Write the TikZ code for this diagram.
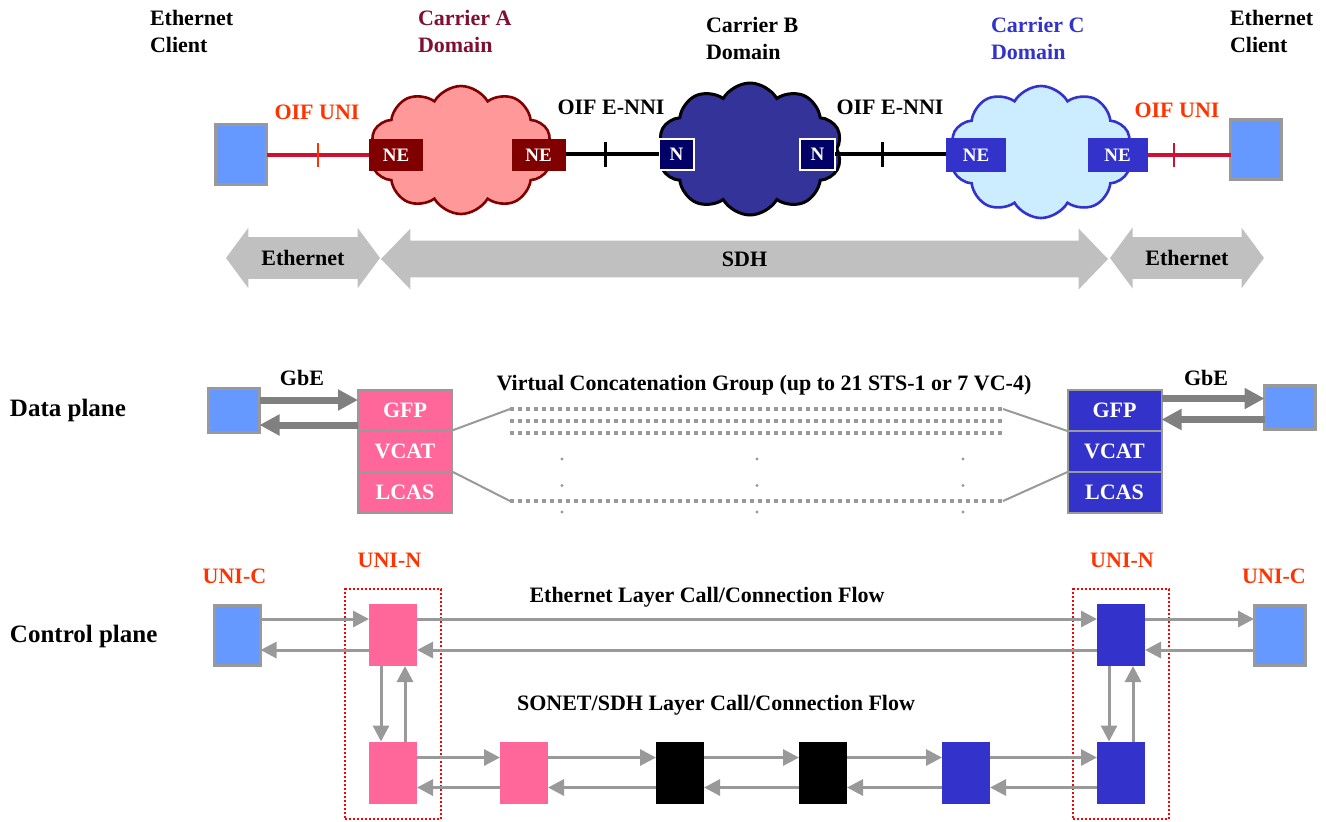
\documentclass[tikz,border=0pt]{standalone}
\usepackage{fontspec}
\setmainfont{Liberation Serif}
\usetikzlibrary{shapes.symbols,shapes.arrows,arrows.meta,positioning,fit}
\definecolor{cliblue}{HTML}{6699FF}
\definecolor{cligray}{HTML}{999999}
\definecolor{unipink}{HTML}{FF6699}
\definecolor{unblue}{HTML}{3333CC}
\definecolor{oifred}{HTML}{FF3300}
\definecolor{unilink}{HTML}{CC1133}
\definecolor{carA}{HTML}{800000}
\definecolor{carAtext}{HTML}{801030}
\definecolor{cloudA}{HTML}{FF9999}
\definecolor{cloudB}{HTML}{333399}
\definecolor{nB}{HTML}{000066}
\definecolor{cloudC}{HTML}{CCECFF}
\definecolor{bandgray}{HTML}{C0C0C0}
\definecolor{flowgray}{HTML}{999999}
\definecolor{gbegray}{HTML}{808080}

\begin{document}
\begin{tikzpicture}[%
    x=0.5pt, y=-0.5pt,          % one unit is one pixel of the sketch, counted top-down
    font=\fontsize{11}{13.5}\selectfont\bfseries,
    ]
% -------------------------------------------------
% Box styles
\tikzset{
  base/.style={inner sep=0pt, outer sep=0pt},
  client/.style={base, rectangle, fill=cliblue, draw=cligray, line width=1.5pt},
  lbl/.style={base, align=left},
  oif/.style={base, text=oifred},
  plane/.style={base, anchor=west, font=\fontsize{12.5}{15}\selectfont\bfseries},
  cloudy/.style={base, cloud, cloud puffs=10, cloud puff arc=120, cloud ignores aspect, line width=1.3pt},
  nebox/.style={base, rectangle, text=white, font=\fontsize{9.5}{11}\selectfont\bfseries},
  band/.style={base, double arrow, fill=bandgray, text height=7.5pt, text depth=0pt, minimum width=30pt},
  layer/.style={base, rectangle, minimum width=47pt, minimum height=20.5pt, draw=cligray, line width=1pt, text=white},
  cbox/.style={base, rectangle, minimum width=24pt, minimum height=31pt},
  unin/.style={base, draw=red, line width=1pt, dash pattern=on 1pt off 1pt, inner xsep=12pt, inner ysep=7.5pt},
  % -------------------------------------------------
  % Connector line styles
  unil/.style={draw=unilink, line width=1.6pt},
  ennil/.style={draw=black, line width=1.6pt},
  gbe/.style={draw=gbegray, line width=3.5pt, -{Triangle[length=10pt,width=10pt]}},
  vcg/.style={draw=cligray, line width=1pt},
  vcgdot/.style={draw=cligray, line width=1.6pt, dash pattern=on 2pt off 2pt},
  vdots/.style={draw=cligray, line width=1.6pt, line cap=round, dash pattern=on 0pt off 13.25pt},
  flow/.style={draw=flowgray, line width=1.5pt, -{Triangle[length=8pt,width=8pt]}},
}
\useasboundingbox (0,0) rectangle (1326,821);
% -------------------------------------------------
% Top: clients and carrier domains
\node[lbl, anchor=west] (ecL) at (150,31.5) {Ethernet\\Client};
\node[lbl, anchor=west, text=carAtext] (carA) at (418,31.5) {Carrier A\\Domain};
\node[lbl, anchor=west] (carB) at (706,38.5) {Carrier B\\Domain};
\node[lbl, anchor=west, text=unblue] (carC) at (991,38.5) {Carrier C\\Domain};
\node[lbl, anchor=west] (ecR) at (1230,31.5) {Ethernet\\Client};

\node[client, minimum width=25.5pt, minimum height=30pt] (cliL) at (241,154.5) {};
\node[client, minimum width=25.5pt, minimum height=30pt] (cliR) at (1256,149.5) {};

\node[cloudy, fill=cloudA, draw=carA, minimum width=91pt, minimum height=64pt] (cldA) at (461,150) {};
\node[cloudy, fill=cloudB, draw=black, line width=1.5pt, minimum width=92pt, minimum height=66pt] (cldB) at (750,149) {};
\node[cloudy, fill=cloudC, draw=unblue, minimum width=91pt, minimum height=66pt] (cldC) at (1041,152) {};

\node[nebox, fill=carA, minimum width=27pt, minimum height=16pt] (neA1) at (396,155) {NE};
\node[nebox, fill=carA, minimum width=27pt, minimum height=16pt] (neA2) at (538.5,155) {NE};
\node[nebox, fill=nB, draw=white, line width=1pt, minimum width=17.5pt, minimum height=15.5pt] (nB1) at (676.5,154) {N};
\node[nebox, fill=nB, draw=white, line width=1pt, minimum width=17.5pt, minimum height=15.5pt] (nB2) at (817.5,154) {N};
\node[nebox, fill=unblue, minimum width=30pt, minimum height=17pt] (neC1) at (976,155) {NE};
\node[nebox, fill=unblue, minimum width=30pt, minimum height=17pt] (neC2) at (1117.5,155) {NE};

\node[oif] (oifL) at (317,112) {OIF UNI};
\node[base] (enniL) at (611,107) {OIF E-NNI};
\node[base] (enniR) at (890,107) {OIF E-NNI};
\node[oif] (oifR) at (1177,110) {OIF UNI};

% links with their interface ticks
\draw[unil] (cliL.east |- neA1.west) -- coordinate[pos=0.5] (tkA) (neA1.west);
\draw[ennil] (neA2.east |- nB1.west) -- coordinate[pos=0.43] (tkB) (nB1.west);
\draw[ennil] (nB2.east) -- coordinate[pos=0.43] (tkC) (nB2.east -| neC1.west);
\draw[unil] (neC2.east) -- coordinate[pos=0.32] (tkD) (neC2.east -| cliR.west);
\draw[line width=1.2pt, oifred] (tkA) ++(0,-12) -- ++(0,24);
\draw[line width=1.5pt] (tkB) ++(0,-12) -- ++(0,25);
\draw[line width=1.5pt] (tkC) ++(0,-12) -- ++(0,25);
\draw[line width=1.2pt, unilink] (tkD) ++(0,-12) -- ++(0,24);

% layer bands
\node[band, minimum height=77pt, inner ysep=6.5pt, double arrow head extend=4.75pt, double arrow tip angle=107] (bEthL) at (303,258) {Ethernet};
\node[band, minimum height=363.5pt, inner ysep=5.25pt, double arrow head extend=6pt, double arrow tip angle=92] (bSDH) at (744.5,259) {SDH};
\node[band, minimum height=77pt, inner ysep=6.5pt, double arrow head extend=4.75pt, double arrow tip angle=107] (bEthR) at (1187,258) {Ethernet};
% -------------------------------------------------
% Data plane
\node[plane] (dplane) at (10,410) {Data plane};
\node[client, minimum width=25.5pt, minimum height=22pt] (dcliL) at (234,410) {};
\node[client, minimum width=25.5pt, minimum height=22pt] (dcliR) at (1290,407.5) {};

\node[layer, fill=unipink] (gfpL) at (405,410) {GFP};
\node[layer, fill=unipink, below=0pt of gfpL] (vcatL) {VCAT};
\node[layer, fill=unipink, below=0pt of vcatL] (lcasL) {LCAS};
\node[layer, fill=unblue] (gfpR) at (1114.5,410.5) {GFP};
\node[layer, fill=unblue, below=0pt of gfpR] (vcatR) {VCAT};
\node[layer, fill=unblue, below=0pt of vcatR] (lcasR) {LCAS};

\node[base] (gbeL) at (302,378) {GbE};
\node[base] (gbeR) at (1206,378) {GbE};
\node[base] (vcgtxt) at (764,385) {Virtual Concatenation Group (up to 21 STS-1 or 7 VC-4)};

\draw[gbe] ([yshift=5pt]dcliL.east) -- ([yshift=5pt]dcliL.east -| gfpL.west);
\draw[gbe] ([yshift=-7.5pt]gfpL.west) -- ([yshift=-7.5pt]gfpL.west -| dcliL.east);
\draw[gbe] ([yshift=6pt]gfpR.east) -- ([yshift=6pt]gfpR.east -| dcliR.west);
\draw[gbe] ([yshift=-6pt]dcliR.west) -- ([yshift=-6pt]dcliR.west -| gfpR.east);

% the group of member paths
\coordinate (vgL1) at (510,409);
\coordinate (vgL2) at (510,421);
\coordinate (vgL3) at (510,433);
\coordinate (vgL4) at (510,501);
\coordinate (vgR1) at (1003,409);
\coordinate (vgR2) at (1003,421);
\coordinate (vgR3) at (1003,433);
\coordinate (vgR4) at (1003,501);
\draw[vcg] (gfpL.south east) -- (vgL1);
\draw[vcg] (vcatL.south east) -- (vgL4);
\draw[vcg] (gfpR.south west) -- (vgR1);
\draw[vcg] (vcatR.south west) -- (vgR4);
\draw[vcgdot] (vgL1) -- (vgR1);
\draw[vcgdot] (vgL2) -- (vgR2);
\draw[vcgdot] (vgL3) -- (vgR3);
\draw[vcgdot] (vgL4) -- (vgR4);
\draw[vdots] (562,459) -- (562,514);
\draw[vdots] (757,459) -- (757,514);
\draw[vdots] (963,459) -- (963,514);
% -------------------------------------------------
% Control plane
\node[plane] (cplane) at (10,636) {Control plane};
\node[client, minimum width=23pt, minimum height=30pt] (ccliL) at (237.5,635) {};
\node[client, minimum width=25.5pt, minimum height=30pt] (ccliR) at (1279.5,635) {};

\node[cbox, fill=unipink] (cnL1) at (393,635) {};
\node[cbox, fill=unipink] (cnL2) at (393,772.5) {};
\node[cbox, fill=unipink] (csA) at (524,772.5) {};
\node[cbox, fill=black] (csB1) at (680,772.5) {};
\node[cbox, fill=black] (csB2) at (823,772.5) {};
\node[cbox, fill=unblue] (csC) at (966,772.5) {};
\node[cbox, fill=unblue] (cnR2) at (1121,772.5) {};
\node[cbox, fill=unblue] (cnR1) at (1121,635) {};

\node[unin, fit=(cnL1)(cnL2)] (uninL) {};
\node[unin, fit=(cnR1)(cnR2)] (uninR) {};

\node[oif] (unicL) at (234.5,576) {UNI-C};
\node[oif] (uninLl) at (389.5,560) {UNI-N};
\node[oif] (uninRl) at (1122,560) {UNI-N};
\node[oif] (unicR) at (1274,576) {UNI-C};

\node[base] (ethflow) at (707,597) {Ethernet Layer Call/Connection Flow};
\node[base] (sdhflow) at (716,705) {SONET/SDH Layer Call/Connection Flow};

% Ethernet layer call flow
\draw[flow] ([yshift=8pt]ccliL.east) -- ([yshift=8pt]cnL1.west);
\draw[flow] ([yshift=-7.5pt]cnL1.west) -- ([yshift=-7.5pt]ccliL.east);
\draw[flow] ([yshift=8pt]cnL1.east) -- ([yshift=8pt]cnR1.west);
\draw[flow] ([yshift=-7.5pt]cnR1.west) -- ([yshift=-7.5pt]cnL1.east);
\draw[flow] ([yshift=8pt]cnR1.east) -- ([yshift=8pt]ccliR.west);
\draw[flow] ([yshift=-7.5pt]ccliR.west) -- ([yshift=-7.5pt]cnR1.east);
% between the layers
\draw[flow] ([xshift=-6pt]cnL1.south) -- ([xshift=-6pt]cnL2.north);
\draw[flow] ([xshift=6pt]cnL2.north) -- ([xshift=6pt]cnL1.south);
\draw[flow] ([xshift=-6pt]cnR1.south) -- ([xshift=-6pt]cnR2.north);
\draw[flow] ([xshift=6pt]cnR2.north) -- ([xshift=6pt]cnR1.south);
% SONET/SDH layer call flow
\draw[flow] ([yshift=7.5pt]cnL2.east) -- ([yshift=7.5pt]csA.west);
\draw[flow] ([yshift=-7.5pt]csA.west) -- ([yshift=-7.5pt]cnL2.east);
\draw[flow] ([yshift=7.5pt]csA.east) -- ([yshift=7.5pt]csB1.west);
\draw[flow] ([yshift=-7.5pt]csB1.west) -- ([yshift=-7.5pt]csA.east);
\draw[flow] ([yshift=7.5pt]csB1.east) -- ([yshift=7.5pt]csB2.west);
\draw[flow] ([yshift=-7.5pt]csB2.west) -- ([yshift=-7.5pt]csB1.east);
\draw[flow] ([yshift=7.5pt]csB2.east) -- ([yshift=7.5pt]csC.west);
\draw[flow] ([yshift=-7.5pt]csC.west) -- ([yshift=-7.5pt]csB2.east);
\draw[flow] ([yshift=7.5pt]csC.east) -- ([yshift=7.5pt]cnR2.west);
\draw[flow] ([yshift=-7.5pt]cnR2.west) -- ([yshift=-7.5pt]csC.east);
% -------------------------------------------------
\end{tikzpicture}
\end{document}
